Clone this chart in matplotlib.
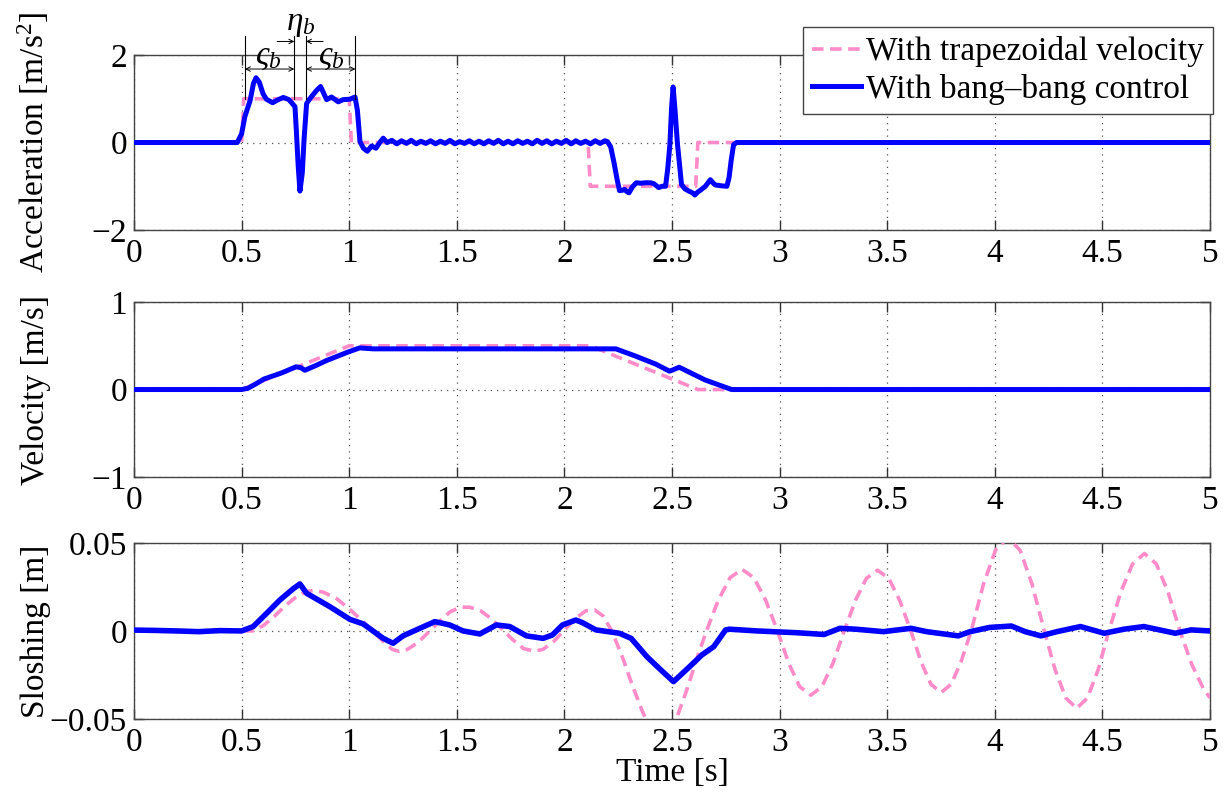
import numpy as np
import matplotlib
matplotlib.use("Agg")
import matplotlib.pyplot as plt

plt.rcParams["font.family"] = ["Liberation Serif", "DejaVu Serif"]
plt.rcParams["mathtext.fontset"] = "custom"
plt.rcParams["mathtext.rm"] = "Liberation Serif"
plt.rcParams["mathtext.it"] = "Liberation Serif:italic"

# ---- data ----
# acceleration, trapezoidal velocity profile
acc_trap_t = [0, 0.50, 0.51, 1.00, 1.01, 2.11, 2.12, 2.61, 2.62, 5.0]
acc_trap = [0, 0, 1, 1, 0, 0, -1, -1, 0, 0]

# acceleration, bang-bang control
acc_bang_t = [0, 0.48, 0.50, 0.515, 0.54, 0.555, 0.567, 0.582, 0.600, 0.615, 0.644,
              0.67, 0.694, 0.72, 0.748, 0.755, 0.763, 0.771, 0.782, 0.79, 0.802,
              0.817, 0.848, 0.867, 0.879, 0.895, 0.918, 0.949, 0.972, 1.003, 1.027,
              1.038, 1.05, 1.066, 1.084, 1.104, 1.124, 1.142, 1.158, 1.176,
              1.198, 1.221, 1.243, 1.266, 1.288, 1.311, 1.333, 1.356, 1.378, 1.401,
              1.423, 1.446, 1.468, 1.491, 1.513, 1.536, 1.558, 1.581, 1.603, 1.626,
              1.648, 1.671, 1.693, 1.716, 1.738, 1.761, 1.783, 1.806, 1.828, 1.851,
              1.873, 1.896, 1.918, 1.941, 1.963, 1.986, 2.008, 2.031, 2.053, 2.076,
              2.098, 2.121, 2.143, 2.166, 2.188, 2.20,
              2.215, 2.23, 2.245, 2.256, 2.27, 2.28, 2.29, 2.30, 2.315, 2.334, 2.355,
              2.377, 2.40, 2.415, 2.438, 2.455, 2.47, 2.48, 2.49, 2.498, 2.505, 2.513,
              2.525, 2.537, 2.544, 2.56, 2.578, 2.595, 2.606, 2.62, 2.632, 2.655,
              2.678, 2.69, 2.701, 2.73, 2.755, 2.765, 2.775, 2.786, 2.80, 5.0]
acc_bang = [0, 0, 0.2, 0.59, 0.97, 1.35, 1.48, 1.38, 1.11, 0.99, 0.91,
            0.98, 1.03, 0.98, 0.82, 0.21, -0.54, -1.11, -0.69, 0.06, 0.89,
            1.0, 1.19, 1.28, 1.15, 0.98, 1.04, 0.93, 0.98, 0.99, 1.04,
            0.74, 0.02, -0.13, -0.2, -0.08, -0.13, 0.0, 0.1, 0.0,
            0.05, -0.03, 0.04, -0.02, 0.05, -0.03, 0.03, -0.02, 0.04, -0.03,
            0.03, -0.02, 0.05, -0.03, 0.02, -0.02, 0.04, -0.03, 0.03, -0.03,
            0.04, -0.02, 0.05, -0.03, 0.03, -0.03, 0.04, -0.02, 0.03, -0.03,
            0.05, -0.02, 0.04, -0.03, 0.03, -0.02, 0.05, -0.03, 0.04, -0.02,
            0.03, -0.03, 0.04, -0.02, 0.04, 0.02,
            -0.1, -0.45, -0.85, -1.1, -1.09, -1.07, -1.12, -1.15, -1.02, -0.92, -0.93,
            -0.92, -0.92, -0.94, -1.03, -1.0, -1.0, -0.6, -0.05, 0.8, 1.27, 0.8,
            -0.02, -0.6, -0.96, -1.06, -1.11, -1.15, -1.2, -1.13, -1.09, -1.0,
            -0.85, -0.92, -0.97, -0.99, -1.0, -0.8, -0.4, -0.05, 0.0, 0.0]

# velocity
vel_trap_t = [0, 0.5, 1.0, 2.12, 2.62, 5.0]
vel_trap = [0, 0, 0.5, 0.5, 0, 0]
vel_bang_t = [0, 0.5, 0.53, 0.57, 0.604, 0.686, 0.753, 0.775, 0.794, 0.85, 0.893,
              0.996, 1.049, 1.11, 2.239, 2.322, 2.425, 2.488, 2.505, 2.533, 2.653,
              2.777, 5.0]
vel_bang = [0, 0, 0.015, 0.07, 0.12, 0.19, 0.26, 0.25, 0.22, 0.28, 0.33,
            0.43, 0.476, 0.465, 0.465, 0.39, 0.29, 0.21, 0.225, 0.255, 0.11,
            0, 0]

# sloshing
slosh_trap_t = [0, 0.55, 0.60, 0.65, 0.70, 0.75, 0.80, 0.84, 0.88, 0.94, 1.00,
                1.05, 1.10, 1.15, 1.20, 1.23, 1.27, 1.32, 1.37, 1.42, 1.47, 1.52,
                1.56, 1.61, 1.66, 1.71, 1.76, 1.81, 1.86, 1.90, 1.95, 2.00, 2.05,
                2.10, 2.14, 2.18, 2.22, 2.27, 2.31, 2.36, 2.40, 2.44, 2.48, 2.52,
                2.57, 2.62, 2.66, 2.715, 2.77, 2.825, 2.88, 2.935, 2.99, 3.042,
                3.093, 3.145, 3.197, 3.248, 3.30, 3.352, 3.403, 3.455, 3.507,
                3.558, 3.61, 3.657, 3.703, 3.75, 3.797, 3.843, 3.89, 3.947, 4.003,
                4.06, 4.117, 4.173, 4.23, 4.28, 4.33, 4.38, 4.43, 4.48, 4.53,
                4.585, 4.64, 4.695, 4.75, 4.805, 4.86, 4.915, 4.97, 5.0]
slosh_trap = [0, 0.0, 0.003, 0.008, 0.014, 0.019, 0.0225, 0.023, 0.022, 0.0185, 0.0125,
              0.007, 0.001, -0.005, -0.0105, -0.0115, -0.0105, -0.0065, -0.0005, 0.0055,
              0.011, 0.0135, 0.0135, 0.0115, 0.007, 0.001, -0.005, -0.010, -0.0115,
              -0.0105, -0.006, 0.0005, 0.007, 0.0115, 0.012, 0.0085, 0.0, -0.015,
              -0.029, -0.045, -0.056, -0.062, -0.060, -0.050, -0.033, -0.014, 0.0,
              0.0175, 0.0303, 0.035, 0.0303, 0.0175, 0.0, -0.0183, -0.0316, -0.0365,
              -0.0316, -0.0183, 0.0, 0.0173, 0.0299, 0.0345, 0.0299, 0.0173, 0.0,
              -0.0175, -0.0303, -0.035, -0.0303, -0.0175, 0.0, 0.0265, 0.0459, 0.053,
              0.0459, 0.0265, 0.0, -0.022, -0.0381, -0.044, -0.0381, -0.022, 0.0,
              0.022, 0.0381, 0.044, 0.0381, 0.022, 0.0, -0.019, -0.033, -0.038]
slosh_bang_t = [0, 0.1, 0.2, 0.3, 0.4, 0.5, 0.554, 0.616, 0.678, 0.74, 0.771, 0.802,
                0.91, 1.003, 1.065, 1.158, 1.204, 1.25, 1.328, 1.398, 1.467, 1.529,
                1.607, 1.684, 1.746, 1.824, 1.901, 1.944, 1.991, 2.053, 2.084, 2.146,
                2.255, 2.31, 2.383, 2.438, 2.507, 2.584, 2.639, 2.694, 2.749, 2.767,
                2.896, 3.079, 3.207, 3.28, 3.353, 3.482, 3.61, 3.683, 3.83, 3.885,
                3.976, 4.077, 4.141, 4.214, 4.288, 4.398, 4.508, 4.6, 4.692, 4.838,
                4.912, 5.0]
slosh_bang = [0.0005, 0.0003, 0.0, -0.0004, 0.0002, 0.0, 0.0025, 0.010, 0.0176, 0.024,
              0.0267, 0.0214, 0.0138, 0.0066, 0.004, -0.0042, -0.007, -0.0028, 0.0015,
              0.0053, 0.0034, 0.0, -0.0017, 0.0034, 0.0025, -0.0028, -0.0042, -0.0023,
              0.0034, 0.0062, 0.0047, 0.0006, -0.0013, -0.0042, -0.0146, -0.021,
              -0.0288, -0.020, -0.0136, -0.0089, 0.0006, 0.001, 0.0, -0.001, -0.002,
              0.0015, 0.001, -0.0004, 0.0015, -0.0004, -0.0028, -0.0004, 0.002, 0.0028,
              -0.0004, -0.0028, -0.0004, 0.0025, -0.0013, 0.001, 0.0025, -0.0013,
              0.0006, 0.0]

x_ticks = [0, 0.5, 1, 1.5, 2, 2.5, 3, 3.5, 4, 4.5, 5]
x_ticklabels = ["0", "0.5", "1", "1.5", "2", "2.5", "3", "3.5", "4", "4.5", "5"]

PINK = "#ff8cc8"
BLUE = "#0000ff"
FS = 24

fig = plt.figure(figsize=(12.26, 7.94), dpi=100)
ax1 = fig.add_axes([0.1093, 0.7103, 0.8777, 0.2204])
ax2 = fig.add_axes([0.1093, 0.3992, 0.8777, 0.2204])
ax3 = fig.add_axes([0.1093, 0.0945, 0.8777, 0.2217])


def style(ax, ylim, yticks, ylabels, ylabel):
    ax.set_xlim(0, 5)
    ax.set_ylim(*ylim)
    ax.set_xticks(x_ticks)
    ax.set_xticklabels(x_ticklabels)
    ax.set_yticks(yticks)
    ax.set_yticklabels(ylabels)
    ax.tick_params(direction="in", length=7, width=1, top=True, right=True,
                   labelsize=FS, color="#333333", pad=5)
    ax.tick_params(axis="x", pad=6)
    ax.grid(True, linestyle=(0, (1, 4)), color="#555555", linewidth=0.9)
    for s in ax.spines.values():
        s.set_color("#444444")
        s.set_linewidth(1.0)
    ax.set_ylabel(ylabel, fontsize=FS)
    ax.yaxis.set_label_coords(-0.077, 0.5)


ax1.plot(acc_trap_t, acc_trap, color=PINK, lw=2.6, ls=(0, (3.2, 1.8)),
         label="With trapezoidal velocity", zorder=3)
ax1.plot(acc_bang_t, acc_bang, color=BLUE, lw=3.6, solid_joinstyle="round",
         label="With bang\u2013bang control", zorder=4)
style(ax1, (-2, 2), [-2, 0, 2], ["\u22122", "0", "2"], "Acceleration [m/s$^2$]")

ax2.plot(vel_trap_t, vel_trap, color=PINK, lw=2.6, ls=(0, (3.2, 1.8)), zorder=3)
ax2.plot(vel_bang_t, vel_bang, color=BLUE, lw=3.6, zorder=4)
style(ax2, (-1, 1), [-1, 0, 1], ["\u22121", "0", "1"], "Velocity [m/s]")

ax3.plot(slosh_trap_t, slosh_trap, color=PINK, lw=2.6, ls=(0, (3.2, 1.8)), zorder=3)
ax3.plot(slosh_bang_t, slosh_bang, color=BLUE, lw=4.0, zorder=4)
style(ax3, (-0.05, 0.05), [-0.05, 0, 0.05], ["\u22120.05", "0", "0.05"], "Sloshing [m]")
ax3.set_xlabel("Time [s]", fontsize=FS, labelpad=0)

# interval annotations on the acceleration plot
ann_x = [0.515, 0.745, 0.799, 1.029]
for xv in ann_x:
    ax1.plot([xv, xv], [1.0, 2.44], color="black", lw=0.8, clip_on=False, zorder=5)
arr = dict(arrowstyle="<->", color="black", lw=0.7, mutation_scale=8,
           shrinkA=0, shrinkB=0)
ax1.annotate("", xy=(ann_x[0], 1.68), xytext=(ann_x[1], 1.68), arrowprops=arr,
             annotation_clip=False)
ax1.annotate("", xy=(ann_x[2], 1.68), xytext=(ann_x[3], 1.68), arrowprops=arr,
             annotation_clip=False)
one = dict(arrowstyle="->", color="black", lw=0.7, mutation_scale=8,
           shrinkA=0, shrinkB=0)
ax1.annotate("", xy=(ann_x[1], 2.31), xytext=(ann_x[1] - 0.08, 2.31), arrowprops=one,
             annotation_clip=False)
ax1.annotate("", xy=(ann_x[2], 2.31), xytext=(ann_x[2] + 0.08, 2.31), arrowprops=one,
             annotation_clip=False)
ax1.text(0.623, 1.95, r"$\varsigma_b$", fontsize=FS, ha="center", va="center",
         clip_on=False)
ax1.text(0.918, 1.95, r"$\varsigma_b$", fontsize=FS, ha="center", va="center",
         clip_on=False)
ax1.text(0.776, 2.72, r"$\eta_b$", fontsize=FS, ha="center", va="center",
         clip_on=False)

leg = ax1.legend(loc="upper right", bbox_to_anchor=(0.9894, 0.966),
                 bbox_transform=fig.transFigure, fontsize=FS, frameon=True,
                 fancybox=False, framealpha=1, edgecolor="#444444",
                 handlelength=1.45, handletextpad=0.15, borderpad=0.28,
                 labelspacing=0.2, borderaxespad=0)
leg.get_frame().set_linewidth(1.0)
leg.set_zorder(10)

fig.savefig("out.png", dpi=100)
